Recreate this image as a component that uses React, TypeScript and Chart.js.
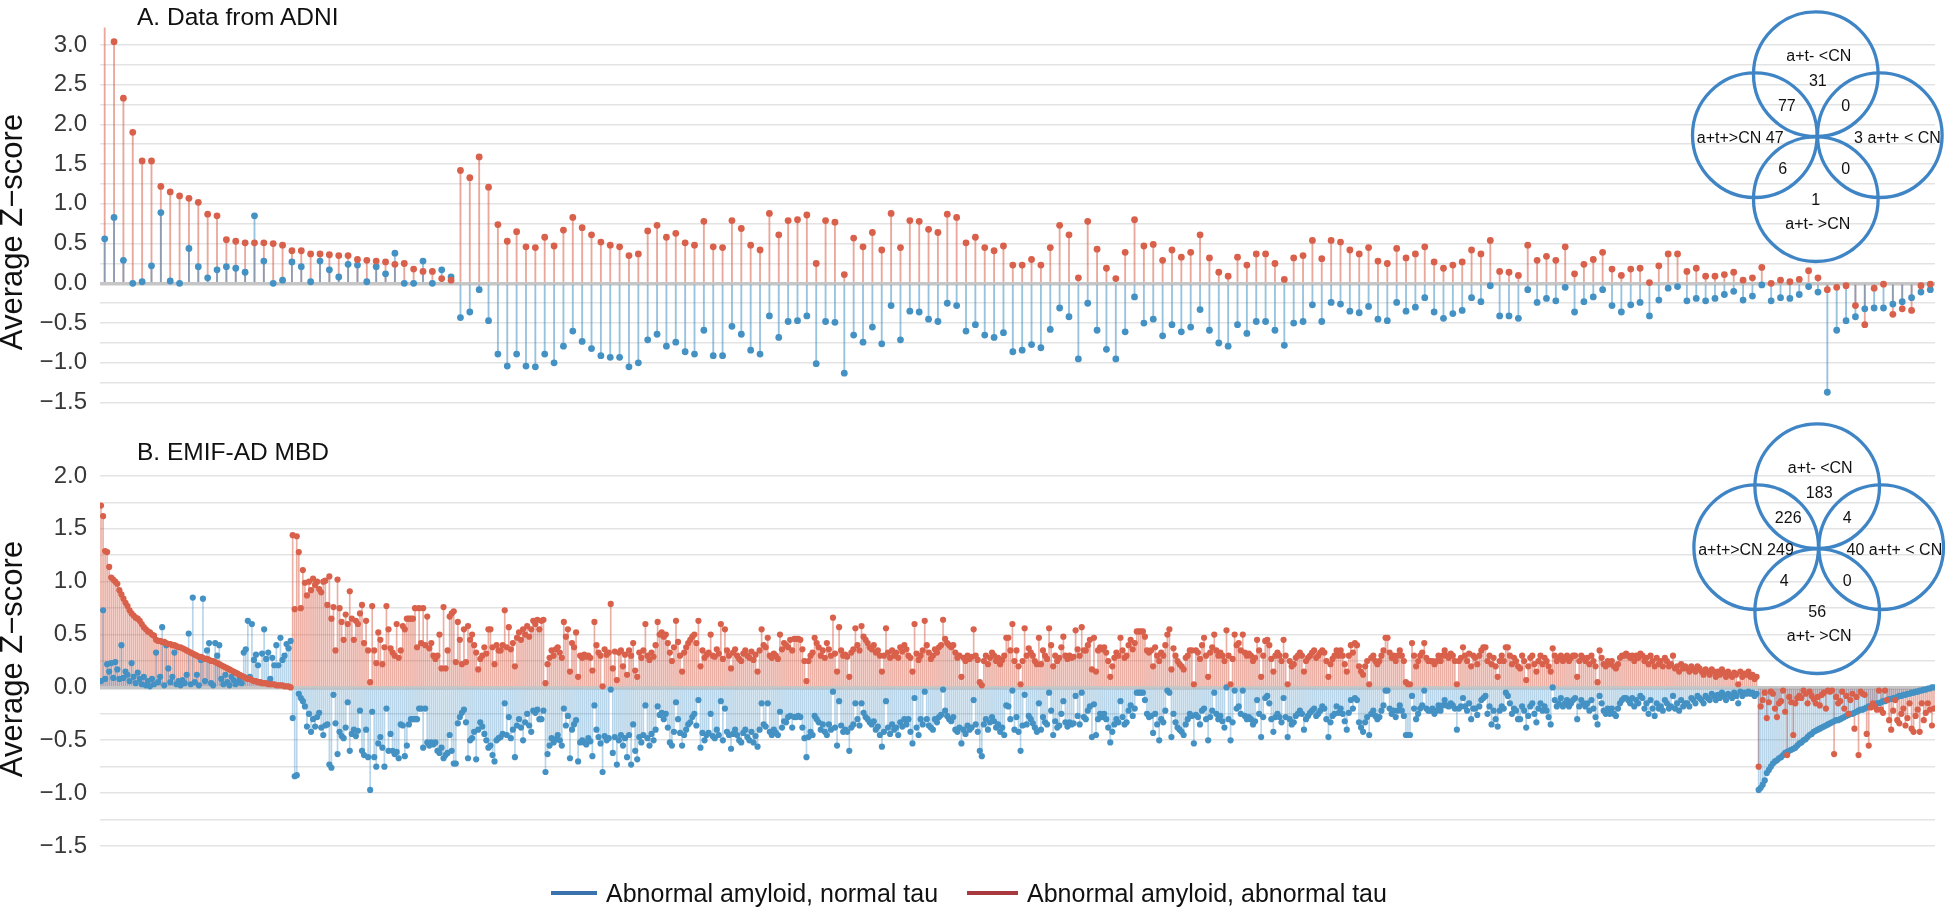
import React, { useEffect, useRef } from 'react';
import { Chart, registerables } from 'chart.js';

Chart.register(...registerables);

const FONT = '"Liberation Sans", Arial, Helvetica, sans-serif';
const RED_DOT = '#D9604A';
const BLUE_DOT = '#4491C4';

// ---------- Panel A: ADNI (abnormal amyloid, abnormal tau = red; normal tau = blue) ----------
const adniAbnormalTau = [
  3.4, 3.04, 2.33, 1.9, 1.54, 1.54, 1.22, 1.15, 1.1, 1.07,
  1.02, 0.87, 0.85, 0.55, 0.53, 0.51, 0.51, 0.51, 0.5, 0.48,
  0.41, 0.41, 0.37, 0.37, 0.36, 0.35, 0.35, 0.3, 0.29, 0.28,
  0.27, 0.24, 0.25, 0.18, 0.15, 0.15, 0.06, 0.04, 1.42, 1.33,
  1.59, 1.21, 0.74, 0.53, 0.65, 0.46, 0.45, 0.58, 0.47, 0.67,
  0.83, 0.7, 0.61, 0.52, 0.48, 0.46, 0.35, 0.37, 0.66, 0.73,
  0.58, 0.63, 0.51, 0.48, 0.78, 0.46, 0.45, 0.79, 0.69, 0.48,
  0.42, 0.88, 0.61, 0.79, 0.8, 0.86, 0.25, 0.79, 0.77, 0.11,
  0.57, 0.46, 0.64, 0.42, 0.88, 0.45, 0.79, 0.78, 0.68, 0.64,
  0.87, 0.83, 0.51, 0.58, 0.45, 0.41, 0.47, 0.23, 0.23, 0.3,
  0.23, 0.45, 0.73, 0.61, 0.07, 0.78, 0.43, 0.19, 0.06, 0.39,
  0.8, 0.47, 0.49, 0.29, 0.42, 0.33, 0.39, 0.61, 0.32, 0.14,
  0.09, 0.33, 0.23, 0.37, 0.37, 0.25, 0.05, 0.32, 0.35, 0.54,
  0.31, 0.54, 0.52, 0.42, 0.37, 0.45, 0.28, 0.25, 0.44, 0.32,
  0.37, 0.46, 0.27, 0.19, 0.23, 0.27, 0.42, 0.37, 0.54, 0.15,
  0.14, 0.1, 0.48, 0.29, 0.34, 0.29, 0.46, 0.12, 0.24, 0.3,
  0.39, 0.18, 0.1, 0.18, 0.19, 0.01, 0.22, 0.37, 0.37, 0.15,
  0.19, 0.09, 0.09, 0.11, 0.14, 0.04, 0.07, 0.2, 0.0, 0.04,
  0.02, 0.05, 0.16, 0.07, -0.08, -0.05, -0.03, -0.28, -0.52, -0.06,
  -0.01, -0.39, -0.32, -0.34, -0.03, -0.01,
];
const adniNormalTau = [
  0.56, 0.83, 0.29, 0.0, 0.02, 0.22, 0.89, 0.03, 0.0, 0.44,
  0.21, 0.07, 0.17, 0.21, 0.19, 0.14, 0.85, 0.28, 0.0, 0.04,
  0.27, 0.21, 0.02, 0.28, 0.17, 0.08, 0.24, 0.23, 0.02, 0.21,
  0.12, 0.38, 0.0, 0.0, 0.28, 0.0, 0.17, 0.08, -0.43, -0.36,
  -0.08, -0.47, -0.89, -1.04, -0.89, -1.04, -1.05, -0.89, -1.0, -0.79,
  -0.6, -0.73, -0.82, -0.91, -0.93, -0.93, -1.05, -1.0, -0.71, -0.64,
  -0.79, -0.74, -0.86, -0.89, -0.59, -0.91, -0.91, -0.54, -0.64, -0.84,
  -0.89, -0.41, -0.68, -0.48, -0.47, -0.41, -1.01, -0.48, -0.49, -1.13,
  -0.65, -0.74, -0.55, -0.76, -0.28, -0.71, -0.35, -0.36, -0.45, -0.48,
  -0.25, -0.28, -0.6, -0.52, -0.65, -0.68, -0.62, -0.86, -0.84, -0.77,
  -0.81, -0.58, -0.31, -0.42, -0.95, -0.25, -0.59, -0.83, -0.95, -0.61,
  -0.17, -0.5, -0.45, -0.66, -0.52, -0.61, -0.55, -0.33, -0.59, -0.75,
  -0.79, -0.52, -0.63, -0.48, -0.48, -0.59, -0.78, -0.5, -0.48, -0.27,
  -0.48, -0.24, -0.26, -0.35, -0.37, -0.29, -0.45, -0.47, -0.24, -0.35,
  -0.3, -0.18, -0.36, -0.44, -0.38, -0.34, -0.18, -0.23, -0.03, -0.41,
  -0.41, -0.44, -0.08, -0.24, -0.19, -0.22, -0.05, -0.36, -0.23, -0.17,
  -0.08, -0.28, -0.36, -0.27, -0.24, -0.41, -0.21, -0.06, -0.04, -0.22,
  -0.19, -0.22, -0.19, -0.14, -0.1, -0.21, -0.16, -0.02, -0.22, -0.18,
  -0.19, -0.14, -0.04, -0.11, -1.37, -0.59, -0.47, -0.42, -0.32, -0.31,
  -0.31, -0.26, -0.23, -0.18, -0.11, -0.08,
];

// ---------- Panel B: EMIF-AD MBD, read in consecutive stretches ----------
// Stretch 1: both groups above CN
const emifSortedAbnormalTau = [
  1.72, 1.62, 1.29, 1.28, 1.14, 1.04, 1.02, 1.0, 0.98, 0.92,
  0.88, 0.84, 0.8, 0.77, 0.73, 0.7, 0.68, 0.66, 0.65, 0.63,
  0.6, 0.57, 0.55, 0.53, 0.52, 0.5, 0.49, 0.45, 0.44, 0.44,
  0.43, 0.43, 0.42, 0.41, 0.41, 0.4, 0.4, 0.39, 0.38, 0.38,
  0.37, 0.36, 0.35, 0.34, 0.33, 0.32, 0.31, 0.3, 0.29, 0.29,
  0.28, 0.27, 0.27, 0.26, 0.25, 0.25, 0.24, 0.23, 0.22, 0.21,
  0.2, 0.19, 0.18, 0.17, 0.16, 0.15, 0.14, 0.13, 0.12, 0.11,
  0.1, 0.09, 0.08, 0.08, 0.07, 0.06, 0.06, 0.05, 0.05, 0.04,
  0.04, 0.04, 0.03, 0.03, 0.03, 0.03, 0.02, 0.02, 0.02, 0.02,
  0.01, 0.01, 0.01, 0.0,
];
const emifSortedNormalTau = [
  0.06, 0.73, 0.08, 0.22, 0.15, 0.23, 0.09, 0.24, 0.17, 0.08,
  0.4, 0.09, 0.15, 0.12, 0.06, 0.23, 0.1, 0.04, 0.14, 0.08,
  0.03, 0.1, 0.02, 0.06, 0.01, 0.08, 0.03, 0.33, 0.05, 0.1,
  0.57, 0.02, 0.4, 0.18, 0.05, 0.1, 0.33, 0.03, 0.06, 0.02,
  0.07, 0.04, 0.12, 0.51, 0.03, 0.85, 0.05, 0.12, 0.02, 0.26,
  0.84, 0.06, 0.35, 0.42, 0.04, 0.02, 0.42, 0.3, 0.4, 0.08,
  0.03, 0.12, 0.05, 0.02, 0.1, 0.07, 0.03, 0.05, 0.09, 0.04,
  0.33, 0.36, 0.63, 0.1, 0.6, 0.26, 0.31, 0.21, 0.05, 0.32,
  0.55, 0.27, 0.33, 0.08, 0.28, 0.21, 0.4, 0.21, 0.47, 0.26,
  0.3, 0.41, 0.37, 0.44,
];
// Stretch 2a
const emifMidAbnormalTauA = [
  1.44, 0.74, 1.43, 1.28, 0.75, 1.11, 0.99, 0.87, 1.0, 0.92,
  1.03, 0.97, 1.0, 0.93, 0.9, 1.0, 1.01, 0.78, 1.05, 0.65,
  0.76, 0.35, 1.02, 0.75, 0.62, 0.45, 0.69, 0.6, 0.91, 0.65,
  0.45, 0.63, 0.6, 0.7, 0.78, 0.42, 0.63, 0.35, 0.05, 0.77,
  0.35, 0.23, 0.52, 0.45, 0.22, 0.38, 0.77, 0.55, 0.37, 0.33,
  0.3, 0.6, 0.28, 0.35, 0.58, 0.55, 0.65, 0.65, 0.65, 0.65,
  0.75, 0.38, 0.75, 0.42, 0.75, 0.4, 0.67, 0.37, 0.42, 0.3,
  0.27, 0.3, 0.5, 0.18, 0.76, 0.18, 0.35, 0.67, 0.7, 0.72,
  0.24, 0.62, 0.45, 0.22, 0.55, 0.24, 0.58, 0.45, 0.5, 0.4,
  0.33, 0.17, 0.27, 0.3, 0.38, 0.32, 0.55, 0.55, 0.38, 0.22,
  0.4, 0.35,
];
const emifMidNormalTauA = [
  -0.29, -0.84, -0.83, -0.06, -0.1, -0.13, -0.18, -0.37, -0.25, -0.42,
  -0.3, -0.37, -0.28, -0.24, -0.38, -0.45, -0.36, -0.35, -0.73, -0.76,
  -0.07, -0.34, -0.63, -0.42, -0.46, -0.48, -0.38, -0.14, -0.6, -0.44,
  -0.4, -0.46, -0.41, -0.22, -0.6, -0.64, -0.4, -0.66, -0.97, -0.23,
  -0.66, -0.75, -0.53, -0.47, -0.57, -0.75, -0.2, -0.6, -0.44, -0.6,
  -0.63, -0.61, -0.67, -0.35, -0.36, -0.65, -0.55, -0.35, -0.3, -0.3,
  -0.3, -0.3, -0.2, -0.2, -0.57, -0.2, -0.52, -0.55, -0.52, -0.54,
  -0.52, -0.6, -0.62, -0.57, -0.67, -0.64, -0.62, -0.45, -0.6, -0.72,
  -0.72, -0.34, -0.28, -0.24, -0.21, -0.33, -0.67, -0.5, -0.48, -0.42,
  -0.68, -0.4, -0.33, -0.37, -0.44, -0.5, -0.57, -0.55, -0.64, -0.7,
  -0.5, -0.48,
];
// Stretch 2b
const emifMidAbnormalTauB = [
  0.35, 0.4, 0.73, 0.38, 0.57, 0.36, 0.42, 0.2, 0.47, 0.52,
  0.45, 0.55, 0.5, 0.58, 0.48, 0.55, 0.63, 0.6, 0.64, 0.55,
  0.63, 0.64, 0.04, 0.22, 0.28, 0.35, 0.3, 0.36, 0.38, 0.33,
  0.28, 0.62, 0.48, 0.55, 0.15, 0.42, 0.38, 0.52, 0.1, 0.3,
  0.28, 0.31, 0.29, 0.3, 0.28, 0.16, 0.62, 0.4, 0.33, 0.3,
  0.01, 0.36, 0.31, 0.33, 0.79, 0.18, 0.34, 0.07, 0.33, 0.35,
  0.2, 0.31, 0.12, 0.35, 0.3, 0.42, 0.16, 0.1, 0.33, 0.28,
  0.35, 0.6, 0.3, 0.26, 0.33, 0.29, 0.4, 0.62, 0.5, 0.52,
  0.48, 0.5, 0.42, 0.33, 0.25, 0.38, 0.63, 0.43, 0.3, 0.15,
  0.33, 0.38, 0.42, 0.45, 0.48, 0.5, 0.42, 0.63, 0.2, 0.35,
  0.28, 0.31, 0.33, 0.5, 0.3, 0.29, 0.36, 0.32, 0.6, 0.27,
  0.55, 0.35, 0.3, 0.18, 0.33, 0.36, 0.3, 0.27, 0.25, 0.32,
  0.35, 0.3, 0.28, 0.34, 0.26, 0.31, 0.15, 0.35, 0.55, 0.4,
  0.38, 0.47, 0.3, 0.28, 0.32, 0.3, 0.27, 0.5, 0.36, 0.42,
  0.4, 0.38, 0.45, 0.35, 0.46, 0.46, 0.46, 0.45, 0.36, 0.25,
  0.06, 0.25, 0.3, 0.33, 0.47, 0.42, 0.38, 0.3, 0.35, 0.28,
  0.42, 0.36, 0.3, 0.66, 0.32, 0.15, 0.57, 0.35, 0.3, 0.31,
  0.29, 0.1, 0.33, 0.36, 0.56, 0.4, 0.35, 0.58, 0.48, 0.45,
  0.42, 0.38, 0.36, 0.4, 0.33, 0.35, 0.3, 0.15, 0.3, 0.56,
  0.33, 0.28, 0.35, 0.3, 0.33, 0.28, 0.38, 0.34, 0.4, 0.36,
  0.3, 0.28, 0.15, 0.6, 0.32, 0.26, 0.3, 0.35, 0.63, 0.4,
  0.33, 0.27, 0.3, 0.36, 0.33, 0.38, 0.4, 0.64, 0.46, 0.42,
  0.4, 0.38, 0.4, 0.33, 0.28, 0.3, 0.1, 0.28, 0.25, 0.3,
  0.27, 0.29, 0.55, 0.3, 0.26, 0.05,
];
const emifMidNormalTauB = [
  -0.47, -0.44, -0.15, -0.45, -0.28, -0.48, -0.4, -0.66, -0.36, -0.3,
  -0.38, -0.5, -0.33, -0.25, -0.36, -0.42, -0.22, -0.24, -0.21, -0.3,
  -0.3, -0.22, -0.8, -0.63, -0.55, -0.48, -0.52, -0.49, -0.45, -0.5,
  -0.55, -0.2, -0.36, -0.27, -0.67, -0.4, -0.35, -0.31, -0.7, -0.52,
  -0.5, -0.52, -0.54, -0.48, -0.51, -0.65, -0.17, -0.4, -0.47, -0.53,
  -0.8, -0.46, -0.5, -0.48, -0.02, -0.62, -0.47, -0.73, -0.5, -0.45,
  -0.55, -0.48, -0.66, -0.45, -0.73, -0.35, -0.6, -0.68, -0.47, -0.52,
  -0.45, -0.17, -0.48, -0.55, -0.44, -0.5, -0.4, -0.18, -0.26, -0.24,
  -0.3, -0.25, -0.38, -0.52, -0.55, -0.42, -0.14, -0.3, -0.43, -0.55,
  -0.45, -0.4, -0.35, -0.33, -0.28, -0.25, -0.36, -0.12, -0.57, -0.43,
  -0.5, -0.45, -0.43, -0.25, -0.46, -0.48, -0.4, -0.45, -0.13, -0.5,
  -0.2, -0.42, -0.45, -0.58, -0.44, -0.4, -0.45, -0.5, -0.52, -0.43,
  -0.4, -0.47, -0.5, -0.42, -0.52, -0.46, -0.56, -0.4, -0.15, -0.35,
  -0.37, -0.15, -0.42, -0.45, -0.4, -0.43, -0.45, -0.23, -0.38, -0.32,
  -0.33, -0.28, -0.27, -0.38, -0.28, -0.28, -0.27, -0.28, -0.38, -0.48,
  -0.66, -0.47, -0.42, -0.45, -0.27, -0.3, -0.33, -0.4, -0.35, -0.42,
  -0.45, -0.35, -0.4, -0.04, -0.38, -0.55, -0.13, -0.36, -0.42, -0.4,
  -0.42, -0.6, -0.38, -0.35, -0.15, -0.3, -0.36, -0.15, -0.24, -0.28,
  -0.3, -0.33, -0.35, -0.32, -0.4, -0.37, -0.45, -0.56, -0.42, -0.13,
  -0.38, -0.44, -0.35, -0.4, -0.38, -0.45, -0.33, -0.37, -0.3, -0.35,
  -0.3, -0.42, -0.53, -0.1, -0.38, -0.45, -0.3, -0.35, -0.04, -0.3,
  -0.36, -0.38, -0.4, -0.3, -0.33, -0.28, -0.26, -0.02, -0.22, -0.27,
  -0.3, -0.32, -0.28, -0.4, -0.42, -0.38, -0.53, -0.4, -0.44, -0.36,
  -0.4, -0.38, -0.12, -0.35, -0.42, -0.6,
];
// Stretch 2c
const emifMidAbnormalTauC = [
  0.02, 0.25, 0.3, 0.22, 0.28, 0.33, 0.3, 0.25, 0.28, 0.22,
  0.26, 0.3, 0.47, 0.47, 0.35, 0.6, 0.25, 0.35, 0.2, 0.03,
  0.25, 0.56, 0.3, 0.37, 0.33, 0.3, 0.25, 0.22, 0.47, 0.22,
  0.35, 0.3, 0.27, 0.56, 0.4, 0.2, 0.3, 0.25, 0.28, 0.38,
  0.48, 0.3, 0.27, 0.3, 0.28, 0.29, 0.54, 0.36, 0.3, 0.57,
  0.35, 0.35, 0.4, 0.45, 0.17, 0.47, 0.15, 0.35, 0.38, 0.36,
  0.38, 0.33, 0.25, 0.1, 0.2, 0.28, 0.33, 0.3, 0.47, 0.35,
  0.28, 0.3, 0.4, 0.45, 0.36, 0.42, 0.53, 0.53, 0.53, 0.53,
  0.48, 0.35, 0.33, 0.35, 0.2, 0.38, 0.3, 0.25, 0.33, 0.3,
  0.4, 0.5, 0.55, 0.17, 0.37, 0.3, 0.25, 0.22, 0.2, 0.17,
  0.28, 0.3, 0.35, 0.35, 0.03, 0.35, 0.33, 0.27, 0.4, 0.47,
  0.3, 0.1, 0.33, 0.38, 0.5, 0.35, 0.3, 0.33, 0.3, 0.25,
  0.54, 0.3, 0.03, 0.27, 0.5, 0.4, 0.42, 0.35, 0.5, 0.33,
  0.3, 0.32, 0.3, 0.25, 0.28, 0.45, 0.35, 0.1, 0.3, 0.44,
  0.45, 0.4, 0.27, 0.15, 0.3, 0.33, 0.3, 0.25, 0.45, 0.3,
  0.03, 0.25, 0.2, 0.22, 0.28, 0.3, 0.33, 0.3, 0.15, 0.25,
  0.28, 0.3, 0.33, 0.35, 0.28, 0.3, 0.33, 0.35, 0.33, 0.25,
  0.1, 0.22, 0.27, 0.3, 0.35, 0.3, 0.35, 0.3, 0.22, 0.15,
  0.3, 0.4, 0.33, 0.42, 0.4, 0.2, 0.15, 0.12, 0.2, 0.25,
  0.03, 0.28, 0.3, 0.25, 0.22, 0.25, 0.3, 0.35, 0.47, 0.47,
  0.33, 0.28, 0.3, 0.25, 0.3, 0.35, 0.3, 0.25, 0.05, 0.03,
  0.03, 0.42, 0.3, 0.2, 0.25, 0.3, 0.33, 0.42, 0.28, 0.25,
  0.25, 0.25, 0.22, 0.25, 0.3, 0.25, 0.3, 0.35, 0.3, 0.28,
  0.32, 0.3, 0.25, 0.03, 0.25, 0.28,
];
const emifMidNormalTauC = [
  -0.65, -0.35, -0.3, -0.4, -0.33, -0.28, -0.32, -0.38, -0.35, -0.42,
  -0.38, -0.45, -0.17, -0.18, -0.3, -0.03, -0.4, -0.28, -0.42, -0.6,
  -0.36, -0.07, -0.35, -0.27, -0.3, -0.34, -0.38, -0.42, -0.15, -0.4,
  -0.28, -0.33, -0.35, -0.05, -0.22, -0.45, -0.32, -0.38, -0.36, -0.25,
  -0.13, -0.33, -0.37, -0.33, -0.35, -0.34, -0.08, -0.27, -0.35, -0.05,
  -0.28, -0.3, -0.22, -0.18, -0.47, -0.16, -0.45, -0.3, -0.25, -0.28,
  -0.25, -0.3, -0.38, -0.52, -0.42, -0.35, -0.3, -0.33, -0.13, -0.28,
  -0.35, -0.33, -0.22, -0.17, -0.27, -0.2, -0.05, -0.05, -0.05, -0.05,
  -0.12, -0.25, -0.28, -0.27, -0.43, -0.25, -0.35, -0.5, -0.3, -0.33,
  -0.22, -0.03, -0.05, -0.47, -0.25, -0.33, -0.38, -0.4, -0.42, -0.45,
  -0.35, -0.3, -0.25, -0.27, -0.53, -0.26, -0.28, -0.35, -0.22, -0.2,
  -0.3, -0.5, -0.28, -0.22, -0.05, -0.25, -0.3, -0.27, -0.32, -0.38,
  0.0, -0.3, -0.5, -0.33, -0.03, -0.2, -0.18, -0.25, -0.03, -0.27,
  -0.3, -0.28, -0.3, -0.35, -0.32, -0.12, -0.25, -0.47, -0.28, -0.1,
  -0.08, -0.15, -0.3, -0.42, -0.28, -0.25, -0.28, -0.33, -0.1, -0.28,
  -0.47, -0.3, -0.35, -0.33, -0.27, -0.25, -0.22, -0.25, -0.4, -0.3,
  -0.27, -0.24, -0.22, -0.2, -0.27, -0.25, -0.22, -0.18, -0.2, -0.3,
  -0.47, -0.33, -0.27, -0.25, -0.18, -0.24, -0.2, -0.25, -0.32, -0.4,
  -0.24, -0.12, -0.2, -0.1, -0.12, -0.33, -0.38, -0.42, -0.33, -0.28,
  -0.45, -0.25, -0.22, -0.27, -0.3, -0.28, -0.22, -0.17, -0.03, -0.03,
  -0.2, -0.25, -0.22, -0.28, -0.22, -0.17, -0.22, -0.27, -0.45, -0.45,
  -0.45, -0.08, -0.2, -0.3, -0.25, -0.2, -0.17, -0.03, -0.2, -0.22,
  -0.22, -0.2, -0.25, -0.22, -0.17, -0.22, -0.17, -0.12, -0.17, -0.18,
  -0.15, -0.17, -0.2, -0.4, -0.2, -0.18,
];
// Stretch 2d
const emifMidAbnormalTauD = [
  0.38, 0.3, 0.25, 0.32, 0.2, 0.3, 0.28, 0.22, 0.3, 0.35,
  0.38, 0.38, 0.25, 0.3, 0.22, 0.28, 0.2, 0.1, 0.25, 0.3,
  0.25, 0.38, 0.38, 0.3, 0.22, 0.28, 0.25, 0.2, 0.18, 0.3,
  0.25, 0.07, 0.2, 0.28, 0.3, 0.22, 0.15, 0.25, 0.3, 0.22,
  0.28, 0.25, 0.2, 0.15, 0.37, 0.3, 0.25, 0.28, 0.3, 0.25,
  0.28, 0.3, 0.25, 0.28, 0.3, 0.3, 0.1, 0.25, 0.3, 0.28,
  0.25, 0.28, 0.22, 0.3, 0.25, 0.2, 0.05, 0.35, 0.28, 0.22,
  0.2, 0.25, 0.22, 0.25, 0.2, 0.18, 0.22, 0.28, 0.3, 0.3,
  0.32, 0.3, 0.28, 0.3, 0.25, 0.3, 0.28, 0.32, 0.3, 0.25,
  0.28, 0.22, 0.3, 0.25, 0.2, 0.28, 0.22, 0.25, 0.2, 0.28,
  0.25, 0.2, 0.22, 0.3, 0.18, 0.2, 0.15, 0.22, 0.18, 0.2,
  0.18, 0.15, 0.2, 0.17, 0.15, 0.2, 0.18, 0.15, 0.12, 0.17,
  0.15, 0.12, 0.17, 0.15, 0.1, 0.15, 0.12, 0.17, 0.14, 0.1,
  0.15, 0.12, 0.1, 0.14, 0.12, 0.03, 0.15, 0.1, 0.13, 0.12,
  0.15, 0.1, 0.12, 0.08, 0.1,
];
const emifMidNormalTauD = [
  -0.1, -0.18, -0.22, -0.15, -0.3, -0.2, -0.2, -0.26, -0.18, -0.12,
  -0.1, -0.08, -0.25, -0.18, -0.35, -0.22, -0.3, -0.37, -0.22, -0.18,
  -0.2, -0.05, -0.08, -0.15, -0.25, -0.2, -0.22, -0.3, -0.3, -0.18,
  -0.22, -0.38, -0.27, -0.18, -0.15, -0.25, -0.33, -0.2, -0.15, -0.22,
  -0.18, -0.22, -0.28, -0.35, 0.0, -0.12, -0.18, -0.15, -0.1, -0.18,
  -0.15, -0.12, -0.18, -0.15, -0.12, -0.1, -0.3, -0.18, -0.12, -0.15,
  -0.18, -0.15, -0.22, -0.12, -0.2, -0.28, -0.35, -0.08, -0.15, -0.22,
  -0.25, -0.2, -0.25, -0.2, -0.25, -0.27, -0.2, -0.15, -0.12, -0.1,
  -0.1, -0.12, -0.15, -0.1, -0.18, -0.12, -0.15, -0.08, -0.1, -0.2,
  -0.15, -0.25, -0.12, -0.2, -0.27, -0.15, -0.2, -0.18, -0.22, -0.12,
  -0.15, -0.2, -0.18, -0.08, -0.2, -0.15, -0.22, -0.12, -0.18, -0.15,
  -0.15, -0.18, -0.1, -0.12, -0.15, -0.08, -0.1, -0.12, -0.15, -0.08,
  -0.1, -0.12, -0.06, -0.08, -0.12, -0.07, -0.1, -0.05, -0.08, -0.12,
  -0.06, -0.08, -0.1, -0.05, -0.08, -0.15, -0.04, -0.08, -0.05, -0.06,
  -0.04, -0.06, -0.05, -0.08, -0.06,
];
// Stretch 3: both groups below CN
const emifTailAbnormalTau = [
  -0.75, -0.18, -0.12, -0.05, -0.29, -0.14, -0.04, -0.06, -0.2, -0.28,
  -0.15, -0.13, -0.03, -0.23, -0.64, -0.09, -0.14, -0.45, -0.15, -0.1,
  -0.08, -0.1, -0.03, -0.06, -0.15, -0.04, -0.08, -0.11, -0.15, -0.09,
  -0.17, -0.07, -0.05, -0.2, -0.03, -0.04, -0.03, -0.63, -0.09, -0.15,
  -0.13, -0.04, -0.2, -0.08, -0.25, -0.12, -0.06, -0.39, -0.09, -0.64,
  -0.04, -0.06, -0.07, -0.44, -0.55, -0.19, -0.15, -0.18, -0.21, -0.03,
  -0.21, -0.24, -0.03, -0.12, -0.31, -0.4, -0.22, -0.12, -0.31, -0.34,
  -0.25, -0.2, -0.36, -0.29, -0.15, -0.39, -0.42, -0.27, -0.21, -0.42,
  -0.15, -0.31, -0.24, -0.15, -0.21, -0.36, -0.2,
];
const emifTailNormalTau = [
  -0.97, -0.95, -0.92, -0.88, -0.81, -0.78, -0.75, -0.72, -0.7, -0.69,
  -0.67, -0.66, -0.64, -0.62, -0.61, -0.6, -0.59, -0.58, -0.57, -0.55,
  -0.53, -0.52, -0.5, -0.49, -0.47, -0.45, -0.44, -0.42, -0.41, -0.4,
  -0.39, -0.38, -0.37, -0.36, -0.35, -0.34, -0.33, -0.32, -0.31, -0.31,
  -0.3, -0.29, -0.28, -0.27, -0.26, -0.25, -0.25, -0.24, -0.23, -0.22,
  -0.21, -0.21, -0.2, -0.19, -0.18, -0.18, -0.17, -0.16, -0.15, -0.15,
  -0.14, -0.13, -0.13, -0.12, -0.11, -0.11, -0.1, -0.1, -0.09, -0.08,
  -0.08, -0.07, -0.07, -0.06, -0.06, -0.05, -0.05, -0.04, -0.04, -0.03,
  -0.03, -0.02, -0.02, -0.01, -0.01, 0.0, 0.0,
];

const emifAbnormalTau = [
  ...emifSortedAbnormalTau, ...emifMidAbnormalTauA, ...emifMidAbnormalTauB,
  ...emifMidAbnormalTauC, ...emifMidAbnormalTauD, ...emifTailAbnormalTau,
];
const emifNormalTau = [
  ...emifSortedNormalTau, ...emifMidNormalTauA, ...emifMidNormalTauB,
  ...emifMidNormalTauC, ...emifMidNormalTauD, ...emifTailNormalTau,
];

// Venn counts: [top, top-left, top-right, left, right, bottom-left, bottom-right, bottom]
const vennSetNames = ['a+t- <CN', 'a+t+>CN', 'a+t+ < CN', 'a+t- >CN'];
const vennAdniCounts = [31, 77, 0, 47, 3, 6, 0, 1];
const vennEmifCounts = [183, 226, 4, 249, 40, 4, 0, 56];

const seriesNames = ['Abnormal amyloid, normal tau', 'Abnormal amyloid, abnormal tau'];
const panelTitles = ['A. Data from ADNI', 'B. EMIF-AD MBD'];
const yAxisTitle = 'Average Z\u2212score';

function fmtTick(v: number): string {
  if (Math.abs(v * 2 - Math.round(v * 2)) > 1e-6) return '';
  const s = Math.abs(v).toFixed(1);
  return v < -1e-9 ? '\u2212' + s : s;
}

function buildConfig(red: number[], blue: number[], yMax: number, dotR: number, barW: number, padding: any, stems: string[]): any {
  const labels = red.map((_, i) => String(i + 1));
  return {
    type: 'bar',
    data: {
      labels,
      datasets: [
        { type: 'line', label: seriesNames[1], data: red, showLine: false, pointRadius: dotR, pointHoverRadius: dotR,
          pointBackgroundColor: RED_DOT, pointBorderWidth: 0, borderWidth: 0, order: 1, clip: 0 },
        { type: 'line', label: seriesNames[0], data: blue, showLine: false, pointRadius: dotR, pointHoverRadius: dotR,
          pointBackgroundColor: BLUE_DOT, pointBorderWidth: 0, borderWidth: 0, order: 2, clip: 0 },
        { type: 'bar', label: seriesNames[0] + ' stem', data: blue, backgroundColor: stems[1], borderWidth: 0,
          barThickness: barW, grouped: false, order: 3, clip: 0 },
        { type: 'bar', label: seriesNames[1] + ' stem', data: red, backgroundColor: stems[0], borderWidth: 0,
          barThickness: barW, grouped: false, order: 4, clip: 0 },
      ],
    },
    options: {
      responsive: false,
      animation: false,
      events: [],
      layout: { padding },
      plugins: { legend: { display: false }, tooltip: { enabled: false }, title: { display: false } },
      scales: {
        x: { display: false, offset: true },
        y: {
          min: -1.5,
          max: yMax,
          afterFit: (scale: any) => { scale.width = 100; },
          border: { display: false },
          grid: {
            drawTicks: false,
            color: (c: any) => {
              const v = c.tick ? c.tick.value : NaN;
              if (Math.abs(v) < 1e-9) return '#c6c6c6';
              return Math.abs(v * 4 - Math.round(v * 4)) < 1e-6 ? '#e3e3e3' : 'rgba(0,0,0,0)';
            },
            lineWidth: (c: any) => (c.tick && Math.abs(c.tick.value) < 1e-9 ? 3.5 : 1.6),
          },
          ticks: {
            stepSize: 0.25,
            includeBounds: false,
            autoSkip: false,
            padding: 13,
            color: '#383838',
            font: { size: 24, family: FONT },
            callback: (v: any) => fmtTick(Number(v)),
          },
          title: { display: false },
        },
      },
    },
  };
}

function Panel(props: { red: number[]; blue: number[]; yMax: number; dotR: number; barW: number; padding: any; top: number; height: number; stems: string[] }) {
  const ref = useRef<HTMLCanvasElement | null>(null);
  useEffect(() => {
    const chart = new Chart(ref.current as HTMLCanvasElement,
      buildConfig(props.red, props.blue, props.yMax, props.dotR, props.barW, props.padding, props.stems));
    return () => chart.destroy();
  }, []);
  return (
    <canvas ref={ref} width={1952} height={props.height}
      style={{ position: 'absolute', left: 0, top: props.top, width: 1952, height: props.height, display: 'block' }} />
  );
}

function Venn(props: { cx: number; cy: number; counts: number[] }) {
  const { cx, cy, counts } = props;
  const r = 62.3;
  const centers = [[0, 0], [-61, 61], [64, 61], [0, 125]];
  const t = (x: number, y: number, s: string, anchor: string, key: string) => (
    <text key={key} x={cx + x} y={cy + y} textAnchor={anchor as any} dominantBaseline="central"
      fontFamily={FONT} fontSize={16} fill="#111">{s}</text>
  );
  return (
    <g>
      {centers.map((c, i) => (
        <circle key={i} cx={cx + c[0]} cy={cy + c[1]} r={r} fill="none" stroke="#3F85C5" strokeWidth={3.3} />
      ))}
      {t(3, -19, vennSetNames[0], 'middle', 'n0')}
      {t(2, 6, String(counts[0]), 'middle', 'c0')}
      {t(-29, 31, String(counts[1]), 'middle', 'c1')}
      {t(30, 31, String(counts[2]), 'middle', 'c2')}
      {t(-119, 63, vennSetNames[1] + ' ' + counts[3], 'start', 'c3')}
      {t(125, 63, counts[4] + ' ' + vennSetNames[2], 'end', 'c4')}
      {t(-33, 94, String(counts[5]), 'middle', 'c5')}
      {t(30, 94, String(counts[6]), 'middle', 'c6')}
      {t(0, 125, String(counts[7]), 'middle', 'c7')}
      {t(2, 149, vennSetNames[3], 'middle', 'n3')}
    </g>
  );
}

export default function App() {
  const titleStyle: any = { position: 'absolute', left: 137, fontFamily: FONT, fontSize: 24.5, lineHeight: '24.5px', color: '#111', whiteSpace: 'nowrap' };
  const yTitleStyle: any = { position: 'absolute', fontFamily: FONT, fontSize: 31, lineHeight: '31px', color: '#111',
    whiteSpace: 'nowrap', transform: 'translate(-50%, -50%) rotate(-90deg)' };
  const legTextStyle: any = { position: 'absolute', top: 880.5, fontFamily: FONT, fontSize: 25, lineHeight: '25px', color: '#111', whiteSpace: 'nowrap' };
  return (
    <div style={{ position: 'fixed', left: 0, top: 0, width: 1952, height: 908, background: '#fff', overflow: 'hidden' }}>
      <Panel red={adniAbnormalTau} blue={adniNormalTau} yMax={3.22} dotR={3.4} barW={1.2}
        padding={{ left: 0, right: 17, top: 25, bottom: 14 }} top={0} height={430}
        stems={['rgba(217, 96, 74, 0.55)', 'rgba(68, 145, 196, 0.55)']} />
      <Panel red={emifAbnormalTau} blue={emifNormalTau} yMax={2.0} dotR={3.1} barW={1}
        padding={{ left: 0, right: 17, top: 46, bottom: 62 }} top={430} height={478}
        stems={['rgba(217, 96, 74, 0.5)', 'rgba(68, 145, 196, 0.38)']} />
      <div style={{ ...titleStyle, top: 4.5 }}>{panelTitles[0]}</div>
      <div style={{ ...titleStyle, top: 439.5 }}>{panelTitles[1]}</div>
      <div style={{ ...yTitleStyle, left: 11, top: 232 }}>{yAxisTitle}</div>
      <div style={{ ...yTitleStyle, left: 11, top: 659 }}>{yAxisTitle}</div>
      <svg width={1952} height={908} style={{ position: 'absolute', left: 0, top: 0, pointerEvents: 'none' }}>
        <Venn cx={1815.8} cy={74.2} counts={vennAdniCounts} />
        <Venn cx={1817.2} cy={486.2} counts={vennEmifCounts} />
      </svg>
      <div style={{ position: 'absolute', left: 551, top: 891, width: 46, height: 3.5, background: '#3A72AD' }} />
      <div style={{ ...legTextStyle, left: 606 }}>{seriesNames[0]}</div>
      <div style={{ position: 'absolute', left: 967, top: 891, width: 51, height: 3.5, background: '#A8393E' }} />
      <div style={{ ...legTextStyle, left: 1027 }}>{seriesNames[1]}</div>
    </div>
  );
}
